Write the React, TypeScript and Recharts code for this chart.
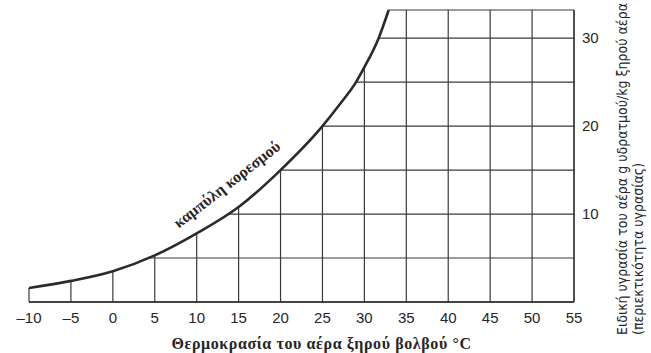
import {
  ComposedChart,
  Line,
  Area,
  XAxis,
  YAxis,
  CartesianGrid,
  ReferenceLine,
  ReferenceDot,
} from 'recharts';

// saturation curve (°C -> g water / kg dry air)
const TEMPS = [-10, -5, 0, 5, 10, 15, 20, 25, 27, 29, 30, 31.7, 32.9];
const SAT = [1.6, 2.4, 3.5, 5.3, 7.8, 10.8, 15.0, 20.0, 22.4, 25.0, 26.7, 30.0, 33.2];

const X_TICKS = [-10, -5, 0, 5, 10, 15, 20, 25, 30, 35, 40, 45, 50, 55];
const Y_TICKS = [10, 20, 30];
const GRID_X = [-5, 0, 5, 10, 15, 20, 25, 30, 35, 40, 45, 50, 55];
const GRID_Y = [0, 5, 10, 15, 20, 25, 30];
const Y_MAX = 33.2;

const X_TITLE = 'Θερμοκρασία του αέρα ξηρού βολβού °C';
const Y_TITLE_1 = 'Ειδική υγρασία του αέρα g υδρατμού/kg ξηρού αέρα';
const Y_TITLE_2 = '(περιεκτικότητα υγρασίας)';
const CURVE_LABEL = 'καμπύλη κορεσμού';

const INK = '#262626';
const GRID = '#3a3a3a';
const SERIF = '"Liberation Serif", "DejaVu Serif", serif';
const SANS = '"Liberation Sans", Arial, sans-serif';

const data = TEMPS.map((t, i) => ({ t, q: SAT[i], cover: [SAT[i], Y_MAX] }));
const last = data[data.length - 1];

const fmtTick = (v: number) => (v < 0 ? `–${-v}` : `${v}`);

export default function App() {
  return (
    <div style={{ position: 'absolute', left: 0, top: 0, width: 651, height: 353, background: '#fff' }}>
      <ComposedChart
        width={651}
        height={353}
        data={data}
        margin={{ top: 10, left: 29, right: 37, bottom: 21 }}
      >
        <CartesianGrid
          stroke={GRID}
          strokeWidth={1.2}
          horizontalValues={GRID_Y}
          verticalValues={GRID_X}
        />
        <XAxis
          dataKey="t"
          type="number"
          domain={[-10, 55]}
          ticks={X_TICKS}
          tickFormatter={fmtTick}
          tickLine={false}
          tickMargin={4}
          height={30}
          axisLine={{ stroke: INK, strokeWidth: 1.7 }}
          tick={{ fontSize: 15, fill: INK, fontFamily: SANS }}
          label={{
            content: ({ viewBox }: any) => (
              <text
                x={viewBox.x + viewBox.width / 2 + 20}
                y={viewBox.y + 47}
                textAnchor="middle"
                fontSize={16}
                fontWeight="bold"
                letterSpacing={0.6}
                fill={INK}
                fontFamily={SERIF}
              >
                {X_TITLE}
              </text>
            ),
          }}
        />
        <YAxis
          orientation="right"
          type="number"
          domain={[0, Y_MAX]}
          ticks={Y_TICKS}
          tickLine={false}
          width={40}
          axisLine={{ stroke: GRID, strokeWidth: 1.4 }}
          tick={{ fontSize: 15, fill: INK, fontFamily: SANS }}
          label={{
            content: ({ viewBox }: any) => {
              const x1 = viewBox.x + 53;
              const x2 = viewBox.x + 69;
              const y0 = viewBox.y + viewBox.height + 33;
              const font = '"Liberation Sans Narrow", "DejaVu Sans Condensed", sans-serif';
              return (
                <g>
                  <text x={x1} y={y0} transform={`rotate(-90 ${x1} ${y0})`} fontSize={14} fill={INK} fontFamily={font}>
                    {Y_TITLE_1}
                  </text>
                  <text x={x2} y={y0} transform={`rotate(-90 ${x2} ${y0})`} fontSize={14} fill={INK} fontFamily={font}>
                    {Y_TITLE_2}
                  </text>
                </g>
              );
            },
          }}
        />
        {/* white band above the curve hides the grid there */}
        <Area
          dataKey="cover"
          type="monotone"
          fill="#fff"
          fillOpacity={1}
          stroke="none"
          isAnimationActive={false}
        />
        <ReferenceLine
          segment={[{ x: data[0].t, y: 0 }, { x: data[0].t, y: data[0].q }]}
          stroke={GRID}
          strokeWidth={1.2}
        />
        <ReferenceLine
          segment={[{ x: last.t, y: Y_MAX }, { x: 55, y: Y_MAX }]}
          stroke={GRID}
          strokeWidth={1.2}
        />
        <Line
          dataKey="q"
          type="monotone"
          stroke="#2b2b2b"
          strokeWidth={2.6}
          dot={false}
          isAnimationActive={false}
        />
        <ReferenceDot
          x={14.0}
          y={12.9}
          r={0}
          shape={(p: any) => (
            <text
              x={p.cx}
              y={p.cy}
              transform={`rotate(-38 ${p.cx} ${p.cy})`}
              textAnchor="middle"
              fontSize={16}
              fontWeight="bold"
              fill={INK}
              fontFamily={SERIF}
            >
              {CURVE_LABEL}
            </text>
          )}
        />
      </ComposedChart>
    </div>
  );
}
